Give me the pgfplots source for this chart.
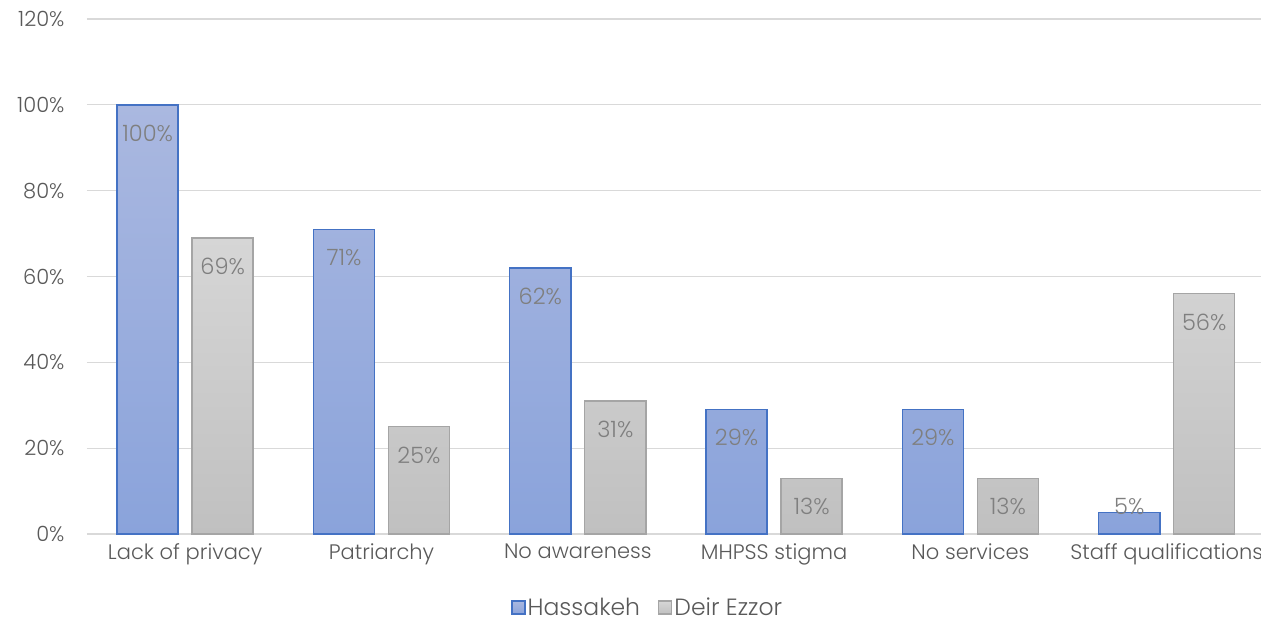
\documentclass[border=0pt]{standalone}
\usepackage{pgfplots}
\pgfplotsset{compat=1.18}
\usepackage{fontspec}
\setmainfont{Poppins}[UprightFont=* Light]
\definecolor{txt}{HTML}{595959}
\definecolor{lab}{HTML}{7F7F7F}
\definecolor{gridc}{HTML}{D9D9D9}
\definecolor{bluetop}{HTML}{AAB8E0}
\definecolor{bluebot}{HTML}{8AA3DB}
\definecolor{blueedge}{HTML}{4472C4}
\definecolor{graytop}{HTML}{D6D6D6}
\definecolor{graybot}{HTML}{C0C0C0}
\definecolor{grayedge}{HTML}{A5A5A5}
\begin{document}
\begin{tikzpicture}[x=1pt,y=1pt]
\begin{axis}[
  at={(87pt,90pt)}, anchor=south west,
  scale only axis, width=1178pt, height=515pt,
  xmin=-0.5, xmax=5.5, ymin=0, ymax=120,
  ytick={0,20,...,120},
  xtick={0,...,5},
  xticklabels={Lack of privacy,Patriarchy,No awareness,MHPSS stigma,No services,Staff qualifications},
  ymajorgrids, grid style={gridc, line width=1.2pt},
  axis x line*=bottom, axis y line*=left,
  x axis line style={gridc, line width=1.2pt},
  y axis line style={draw=none},
  major tick length=0pt,
  /pgf/number format/assume math mode=true,
  yticklabel={\pgfmathprintnumber{\tick}\%},
  yticklabel style={font=\fontsize{21}{24}\selectfont, text=txt, xshift=-19pt},
  xticklabel style={font=\fontsize{21}{24}\selectfont, text=txt, yshift=-6pt},
  ybar, bar width=0.311,
  nodes near coords={\pgfmathprintnumber{\pgfplotspointmeta}\%},
  visualization depends on={\thisrow{off} \as \myoff},
  every node near coord/.append style={font=\fontsize{22.5}{26}\selectfont, text=lab, anchor=north, yshift=\myoff pt},
  legend style={at={(0.476,-0.142)}, anchor=center, draw=none, legend columns=2,
    font=\fontsize{23.5}{27}\selectfont, text=txt,
    /tikz/every even column/.append style={column sep=16pt}},
  legend image code/.code={\draw[#1] (0pt,-7pt) rectangle (13pt,6pt);},
]
\addplot[bar shift=-0.191, draw=blueedge, line width=1.4pt, top color=bluetop, bottom color=bluebot] table {
x y off
0 100 -16
1 71 -16
2 62 -16
3 29 -16
4 29 -16
5 5 18
};
\addlegendentry{Hassakeh}
\addplot[bar shift=0.191, draw=grayedge, line width=1.4pt, top color=graytop, bottom color=graybot] table {
x y off
0 69 -16
1 25 -16
2 31 -16
3 13 -16
4 13 -16
5 56 -16
};
\addlegendentry{Deir Ezzor}
\end{axis}
\pgfresetboundingbox
\path (0,0) rectangle (1261,624);
\end{tikzpicture}
\end{document}
